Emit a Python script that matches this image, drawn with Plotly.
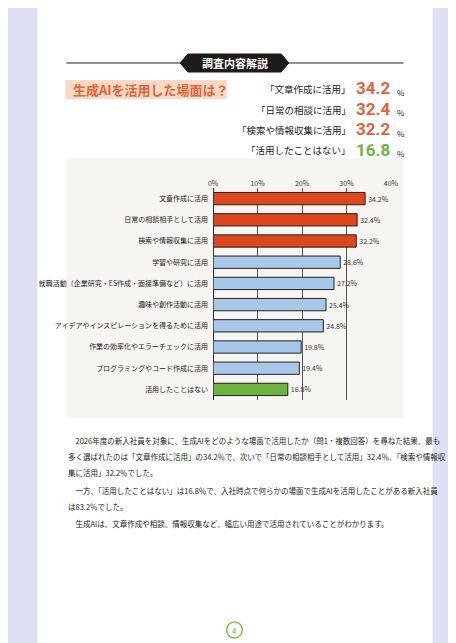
import plotly.graph_objects as go

categories = ["文章作成に活用", "日常の相談相手として活用", "検索や情報収集に活用", "学習や研究に活用",
              "就職活動（企業研究・ES作成・面接準備など）に活用", "趣味や創作活動に活用",
              "アイデアやインスピレーションを得るために活用", "作業の効率化やエラーチェックに活用",
              "プログラミングやコード作成に活用", "活用したことはない"]
values = [34.2, 32.4, 32.2, 28.6, 27.2, 25.4, 24.8, 19.8, 19.4, 16.8]
colors = ["#e0461b"]*3 + ["#a9c7e8"]*6 + ["#6cb33f"]
tick_vals = [0, 10, 20, 30, 40]
tick_text = ["0%", "10%", "20%", "30%", "40%"]
hl_labels = ["「文章作成に活用」", "「日常の相談に活用」", "「検索や情報収集に活用」", "「活用したことはない」"]
hl_values = ["34.2", "32.4", "32.2", "16.8"]
hl_colors = ["#e0643a", "#e0643a", "#e0643a", "#6cb33f"]
body = ["　2026年度の新入社員を対象に、生成AIをどのような場面で活用したか（問1・複数回答）を尋ねた結果、最も",
        "多く選ばれたのは「文章作成に活用」の34.2％で、次いで「日常の相談相手として活用」32.4％、「検索や情報収",
        "集に活用」32.2％でした。",
        "　一方、「活用したことはない」は16.8％で、入社時点で何らかの場面で生成AIを活用したことがある新入社員",
        "は83.2％でした。",
        "　生成AIは、文章作成や相談、情報収集など、幅広い用途で活用されていることがわかります。"]
body_y = [432, 448, 464, 482, 498, 515]

W, H = 456, 643
F = "Noto Sans CJK JP"
def px(x): return x / W
def py(y): return 1 - y / H

fig = go.Figure(go.Bar(
    x=values, y=categories, orientation="h",
    marker=dict(color=colors, line=dict(color="#222", width=1)),
    width=0.58,
    text=[f"{v}%" for v in values], textposition="outside",
    textfont=dict(size=7, color="#333", family=F), cliponaxis=False,
))

shapes = [
    dict(type="rect", xref="paper", yref="paper", x0=px(25), x1=px(432), y0=0, y1=1, fillcolor="white", line_width=0, layer="below"),
    dict(type="rect", xref="paper", yref="paper", x0=px(55), x1=px(402), y0=py(410), y1=py(150), fillcolor="#f7f5f2", line_width=0, layer="below"),
    dict(type="line", xref="paper", yref="paper", x0=px(55), x1=px(172), y0=py(55), y1=py(55), line=dict(color="#222", width=1), layer="below"),
    dict(type="line", xref="paper", yref="paper", x0=px(284), x1=px(402), y0=py(55), y1=py(55), line=dict(color="#222", width=1), layer="below"),
    dict(type="path", xref="paper", yref="paper", layer="below",
         path=f"M {px(172)} {py(55)} L {px(180)} {py(46)} L {px(276)} {py(46)} L {px(284)} {py(55)} L {px(276)} {py(64)} L {px(180)} {py(64)} Z",
         fillcolor="#1e1a17", line=dict(color="#1e1a17", width=1)),
    dict(type="rect", xref="paper", yref="paper", x0=px(54), x1=px(220), y0=py(91), y1=py(72), fillcolor="#fbd9c4", line_width=0, layer="below"),
    dict(type="circle", xref="paper", yref="paper", x0=px(220), x1=px(236), y0=py(630), y1=py(614), fillcolor="white", line=dict(color="#8cbf3f", width=1.5), layer="below"),
]

ann = [
    dict(x=px(228), y=py(55), text="<b>調査内容解説</b>", xanchor="center", font=dict(size=11, color="white", family=F)),
    dict(x=px(60), y=py(81), text="<b>生成AIを活用した場面は？</b>", xanchor="left", font=dict(size=13, color="#e0643a", family=F)),
    dict(x=px(228), y=py(622), text="4", xanchor="center", font=dict(size=8, color="#6cb33f", family=F)),
]
for i, (l, v, c) in enumerate(zip(hl_labels, hl_values, hl_colors)):
    y = py(81 + i * 20.5)
    ann.append(dict(x=px(350), y=y, text=l, xanchor="right", font=dict(size=9.5, color="#222", family=F)))
    ann.append(dict(x=px(351), y=py(80 + i * 20.5), text=f"<b>{v}</b>", xanchor="left", font=dict(size=17, color=c, family="Roboto")))
    ann.append(dict(x=px(393), y=py(84 + i * 20.5), text="%", xanchor="left", font=dict(size=8, color="#222", family=F)))
for t, yy in zip(body, body_y):
    ann.append(dict(x=px(55), y=py(yy), text=t, xanchor="left", font=dict(size=7.5, color="#222", family=F)))
for a in ann:
    a.update(xref="paper", yref="paper", showarrow=False, yanchor="middle")

fig.update_layout(
    width=W, height=H, margin=dict(l=0, r=0, t=0, b=0),
    paper_bgcolor="#dde0f1", plot_bgcolor="rgba(0,0,0,0)", showlegend=False,
    shapes=shapes, annotations=ann,
    xaxis=dict(domain=[px(206), px(389)], range=[0, 40], side="top", tickvals=tick_vals, ticktext=tick_text,
               tickfont=dict(size=7, color="#333", family=F), showgrid=True, gridcolor="#555", gridwidth=0.6,
               zeroline=True, zerolinecolor="#333", zerolinewidth=1, fixedrange=True),
    yaxis=dict(domain=[py(392), py(180)], autorange="reversed", tickfont=dict(size=7, color="#222", family=F),
               ticks="", ticklabelstandoff=4, fixedrange=True),
)
fig.write_html("out.html")
